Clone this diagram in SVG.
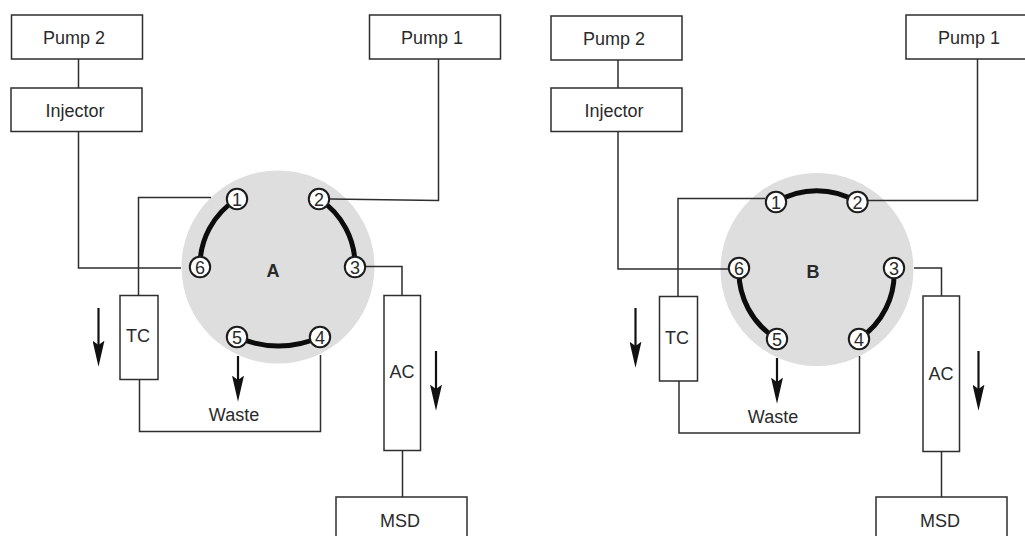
<svg xmlns="http://www.w3.org/2000/svg" width="1025" height="536" viewBox="0 0 1025 536">
<defs>
<marker id="ah" markerUnits="userSpaceOnUse" markerWidth="26" markerHeight="12" refX="16" refY="5.5" orient="auto" viewBox="0 0 24 11"><path d="M0 0L4 5.500L0 11L24 5.500Z" fill="#111"/></marker>
</defs>
<style>
text{font-family:"Liberation Sans",Arial,sans-serif;fill:#2a2a2a;text-anchor:middle;font-size:18px}
.b rect{fill:#fff;stroke:#2e2e2e;stroke-width:1.500}
.c{fill:none;stroke:#2e2e2e;stroke-width:1.500}
.t{fill:none;stroke:#0c0c0c;stroke-width:5}
.d{fill:#dedede}
.p circle{fill:#fff;stroke:#1c1c1c;stroke-width:2}
.a{stroke:#111;stroke-width:2.200;fill:none}
.l{font-weight:bold}
</style>
<rect width="1025" height="536" fill="#fff"/>
<g id="rotor-a"><circle class="d" cx="278" cy="267" r="96.500"/><text class="l" x="273" y="277">A</text></g>
<g id="rotor-b"><circle class="d" cx="817" cy="269.500" r="96.500"/><text class="l" x="813" y="278">B</text></g>
<g id="connectors">
<path class="c" d="M78.500 59V88M78.500 131V268H181M438.500 59V200.500L330 199M211 197.500H138.500V295M139.500 379V431.500H320.500V355M366 266.500H402V295M402.500 450V497"/>
<path class="c" d="M618 59V88M618 131V269H728M977.500 59V200.500H868M765 198.500H678V296.500M679 381V433H859.500V356M914 268H941.500V296M941.500 451V497"/>
<path class="t" d="M237 199A79 79 0 0 0 200 267M319 199A79 79 0 0 1 355 267M237 337A100 100 0 0 0 320 337"/>
<path class="t" d="M776 202A79 79 0 0 1 857.500 202M739 268A79 79 0 0 0 777 339M894 268A79 79 0 0 1 859 339"/>
<path class="a" marker-end="url(#ah)" d="M98.500 308V358"/>
<path class="a" marker-end="url(#ah)" d="M238 356V393"/>
<path class="a" marker-end="url(#ah)" d="M436 351V402"/>
<path class="a" marker-end="url(#ah)" d="M635.500 308V359"/>
<path class="a" marker-end="url(#ah)" d="M777 358V395"/>
<path class="a" marker-end="url(#ah)" d="M978.500 351V402"/>
</g>
<g id="pump2-a" class="b"><rect x="11.500" y="15" width="131" height="44"/><text x="74" y="44">Pump 2</text></g>
<g id="injector-a" class="b"><rect x="11" y="88" width="131" height="43.500"/><text x="75" y="117">Injector</text></g>
<g id="pump1-a" class="b"><rect x="369.500" y="15" width="131" height="44"/><text x="432" y="44">Pump 1</text></g>
<g id="tc-a" class="b"><rect x="120" y="295.500" width="38" height="84"/><text x="138" y="342">TC</text></g>
<g id="ac-a" class="b"><rect x="384" y="295.500" width="36.500" height="155"/><text x="402" y="378">AC</text></g>
<g id="msd-a" class="b"><rect x="336" y="497" width="131" height="60"/><text x="400" y="527">MSD</text></g>
<g id="pump2-b" class="b"><rect x="551" y="16" width="131" height="44"/><text x="614" y="45">Pump 2</text></g>
<g id="injector-b" class="b"><rect x="551" y="88" width="131" height="43.500"/><text x="614" y="117">Injector</text></g>
<g id="pump1-b" class="b"><rect x="906" y="15" width="131" height="44"/><text x="969" y="44">Pump 1</text></g>
<g id="tc-b" class="b"><rect x="659.500" y="296.500" width="38" height="84.500"/><text x="677" y="344">TC</text></g>
<g id="ac-b" class="b"><rect x="923" y="296" width="36.500" height="155.500"/><text x="941" y="380">AC</text></g>
<g id="msd-b" class="b"><rect x="876" y="497" width="131" height="60"/><text x="940" y="527">MSD</text></g>
<g id="port-a1" class="p"><circle cx="237" cy="199" r="10.200"/><text x="237" y="205.500">1</text></g>
<g id="port-a2" class="p"><circle cx="319" cy="199" r="10.200"/><text x="319" y="205.500">2</text></g>
<g id="port-a3" class="p"><circle cx="355" cy="267" r="10.200"/><text x="355" y="273.500">3</text></g>
<g id="port-a4" class="p"><circle cx="320" cy="337" r="10.200"/><text x="320" y="343.500">4</text></g>
<g id="port-a5" class="p"><circle cx="237" cy="337" r="10.200"/><text x="237" y="343.500">5</text></g>
<g id="port-a6" class="p"><circle cx="200" cy="267" r="10.200"/><text x="200" y="273.500">6</text></g>
<g id="port-b1" class="p"><circle cx="776" cy="202" r="10.200"/><text x="776" y="208.500">1</text></g>
<g id="port-b2" class="p"><circle cx="857.500" cy="202" r="10.200"/><text x="857.500" y="208.500">2</text></g>
<g id="port-b3" class="p"><circle cx="894" cy="268" r="10.200"/><text x="894" y="274.500">3</text></g>
<g id="port-b4" class="p"><circle cx="859" cy="339" r="10.200"/><text x="859" y="345.500">4</text></g>
<g id="port-b5" class="p"><circle cx="777" cy="339" r="10.200"/><text x="777" y="345.500">5</text></g>
<g id="port-b6" class="p"><circle cx="739" cy="268" r="10.200"/><text x="739" y="274.500">6</text></g>
<g id="waste-a"><text x="234" y="421">Waste</text></g>
<g id="waste-b"><text x="773" y="423">Waste</text></g>
</svg>
